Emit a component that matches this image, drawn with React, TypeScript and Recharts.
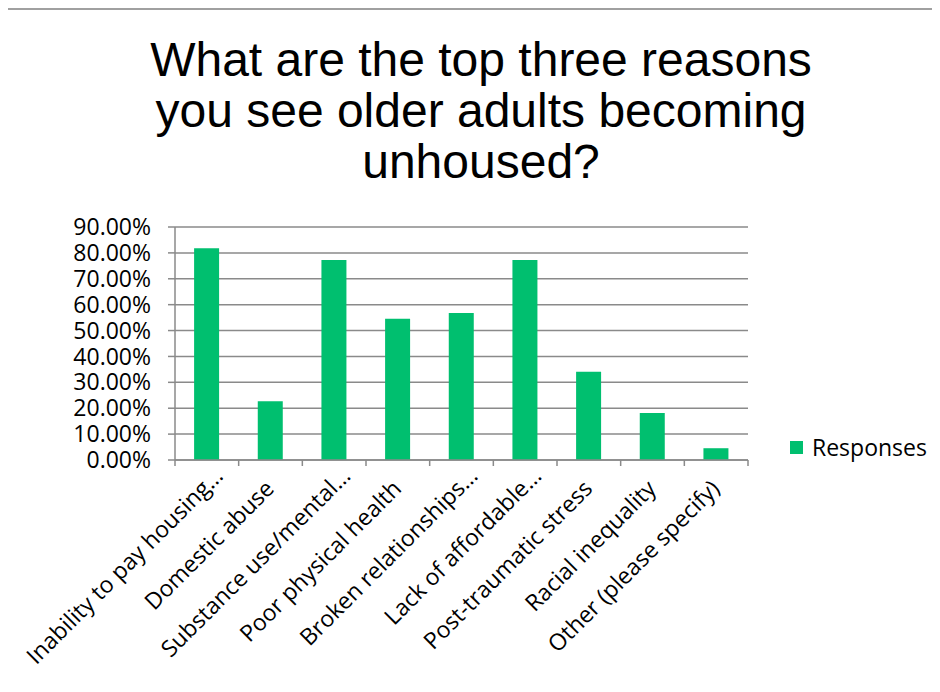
import React from "react";
import { BarChart, Bar, XAxis, YAxis, CartesianGrid, Legend } from "recharts";

const categories: string[] = [
  "Inability to pay housing…",
  "Domestic abuse",
  "Substance use/mental…",
  "Poor physical health",
  "Broken relationships…",
  "Lack of affordable…",
  "Post-traumatic stress",
  "Racial inequality",
  "Other (please specify)",
];

const responses: number[] = [0.8182, 0.2273, 0.7727, 0.5455, 0.5682, 0.7727, 0.3409, 0.1818, 0.0455];

const yTicks: number[] = [0, 0.1, 0.2, 0.3, 0.4, 0.5, 0.6, 0.7, 0.8, 0.9];

const titleLines: string[] = [
  "What are the top three reasons",
  "you see older adults becoming",
  "unhoused?",
];

const seriesName = "Responses";

const data = categories.map((c, i) => ({ category: c, value: responses[i] }));

const GREEN = "#00BF6F";
const GRID = "#8A8A8A";
const LABEL_FONT = "'Open Sans', sans-serif";
const ELLIPSIS = "…";

const CategoryTick = (props: any) => {
  const { x, y, payload, width, visibleTicksCount, index } = props;
  const band = width / visibleTicksCount;
  const half = band / 2;
  const label: string = String(payload.value);
  const truncated = label.endsWith(ELLIPSIS);
  const main = truncated ? label.slice(0, -1) : label;
  return (
    <g>
      <line x1={x - half} y1={y} x2={x - half} y2={y + 6} stroke={GRID} strokeWidth={1.5} />
      {index === visibleTicksCount - 1 && (
        <line x1={x + half} y1={y} x2={x + half} y2={y + 6} stroke={GRID} strokeWidth={1.5} />
      )}
      <g transform={`translate(${x + 5},${y + 30}) rotate(-45)`}>
        <text x={0} y={0} textAnchor="end" fontFamily={LABEL_FONT} fontSize={23} fill="#000">
          {main}
        </text>
        {truncated && (
          <text x={0} y={0} textAnchor="start" fontFamily={LABEL_FONT} fontSize={23} fill="#000">
            {ELLIPSIS}
          </text>
        )}
      </g>
    </g>
  );
};

const LegendContent = () => (
  <div style={{ display: "flex", alignItems: "center", fontFamily: LABEL_FONT, fontSize: 23, color: "#000", whiteSpace: "nowrap" }}>
    <span style={{ display: "inline-block", width: 13, height: 13, background: GREEN, marginRight: 9 }} />
    <span>{seriesName}</span>
  </div>
);

export default function App() {
  return (
    <div style={{ position: "relative", width: 932, height: 684 }}>
      <div style={{ position: "absolute", left: -3, top: 0, width: 940, height: 2, background: "#A0A0A0" }} />
      <div style={{ position: "absolute", left: -3, top: 0, width: 2, height: 700, background: "#A0A0A0" }} />
      <div
        style={{
          position: "absolute",
          left: 73,
          top: 26,
          width: 800,
          textAlign: "center",
          fontFamily: "'Liberation Sans', Arial, sans-serif",
          fontSize: 48,
          lineHeight: "51px",
          color: "#000",
        }}
      >
        {titleLines.map((l) => (
          <div key={l}>{l}</div>
        ))}
      </div>
      <div style={{ position: "absolute", left: 0, top: 0 }}>
        <BarChart
          width={932}
          height={684}
          data={data}
          margin={{ top: 219, right: 192, bottom: 0, left: 0 }}
          barCategoryGap="30%"
        >
          <CartesianGrid vertical={false} stroke={GRID} strokeWidth={1.5} />
          <XAxis
            dataKey="category"
            interval={0}
            height={232}
            tickSize={0}
            tickMargin={0}
            tickLine={false}
            axisLine={{ stroke: GRID, strokeWidth: 1.5 }}
            tick={<CategoryTick />}
          />
          <YAxis
            width={167}
            domain={[0, 0.9]}
            ticks={yTicks}
            interval={0}
            tickSize={7}
            tickMargin={17}
            tickLine={{ stroke: GRID, strokeWidth: 1.5 }}
            axisLine={{ stroke: GRID, strokeWidth: 1.5 }}
            tick={{ fill: "#000", fontFamily: LABEL_FONT, fontSize: 23 }}
            tickFormatter={(v: number) => (v * 100).toFixed(2) + "%"}
          />
          <Legend
            layout="horizontal"
            verticalAlign="middle"
            align="center"
            wrapperStyle={{ left: 782, top: 423, width: 150, height: 30 }}
            content={<LegendContent />}
          />
          <Bar dataKey="value" name={seriesName} fill={GREEN} isAnimationActive={false} />
        </BarChart>
      </div>
    </div>
  );
}
